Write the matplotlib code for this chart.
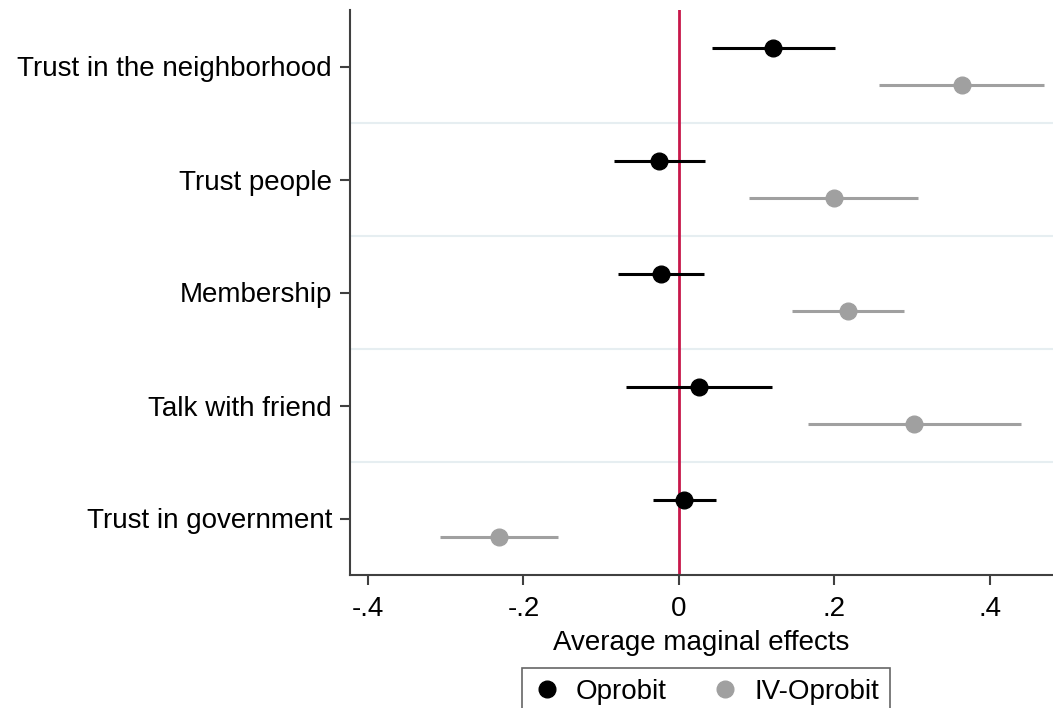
import matplotlib
matplotlib.use("Agg")
import matplotlib.pyplot as plt
from matplotlib.lines import Line2D
import numpy as np

plt.rcParams['font.family'] = ['Liberation Sans', 'DejaVu Sans']

categories = ["Trust in the neighborhood", "Trust people", "Membership",
              "Talk with friend", "Trust in government"]

oprobit_est = [0.121, -0.026, -0.023, 0.026, 0.006]
oprobit_lo = [0.043, -0.084, -0.079, -0.068, -0.034]
oprobit_hi = [0.201, 0.034, 0.032, 0.120, 0.048]

iv_est = [0.364, 0.199, 0.217, 0.302, -0.232]
iv_lo = [0.257, 0.090, 0.146, 0.166, -0.307]
iv_hi = [0.470, 0.308, 0.289, 0.440, -0.156]

xticks = [-0.4, -0.2, 0, 0.2, 0.4]
xticklabels = ["-.4", "-.2", "0", ".2", ".4"]

W, H = 1053, 708
fig = plt.figure(figsize=(W / 100, H / 100), dpi=100)
ax = fig.add_axes([350 / W, (H - 575) / H, (1053 - 350) / W, (575 - 10) / H])

n = len(categories)
ypos = np.arange(n, 0, -1).astype(float)
off = 0.168

black = "#000000"
gray = "#A0A0A0"

# separators between categories
for k in range(1, n):
    ax.axhline(k + 0.5, color="#E6EEF1", lw=1.5, zorder=0)

ax.axvline(0, color="#C8174A", lw=2, zorder=1)

o_est = np.array(oprobit_est)
ax.errorbar(o_est, ypos + off,
            xerr=[o_est - np.array(oprobit_lo), np.array(oprobit_hi) - o_est],
            fmt="o", color=black, ecolor=black, elinewidth=2.2, capsize=0,
            markersize=12, zorder=3, label="Oprobit")
i_est = np.array(iv_est)
ax.errorbar(i_est, ypos - off,
            xerr=[i_est - np.array(iv_lo), np.array(iv_hi) - i_est],
            fmt="o", color=gray, ecolor=gray, elinewidth=2.2, capsize=0,
            markersize=12, zorder=3, label="IV-Oprobit")

ax.set_xlim(-0.423, 0.481)
ax.set_ylim(0.5, n + 0.5)
ax.set_yticks(ypos)
ax.set_yticklabels(categories, fontsize=20)
ax.set_xticks(xticks)
ax.set_xticklabels(xticklabels, fontsize=20)
ax.set_xlabel("Average maginal effects", fontsize=20, labelpad=6)

for s in ["top", "right"]:
    ax.spines[s].set_visible(False)
for s in ["left", "bottom"]:
    ax.spines[s].set_color("#404040")
    ax.spines[s].set_linewidth(1.5)
ax.tick_params(axis="both", direction="out", length=7, width=1.5, color="#404040")
ax.tick_params(axis="y", pad=6)
ax.tick_params(axis="x", pad=8)

h1 = Line2D([], [], marker="o", ls="none", color=black, markersize=12)
h2 = Line2D([], [], marker="o", ls="none", color=gray, markersize=12)
leg = fig.legend([h1, h2], ["Oprobit", "IV-Oprobit"], loc="upper center",
                 bbox_to_anchor=(706 / W, 1 - 668 / H), ncol=2, fontsize=20,
                 frameon=True, fancybox=False, edgecolor="#404040",
                 handletextpad=0.55, columnspacing=1.6, borderpad=0.4,
                 handlelength=1.0, borderaxespad=0)
leg.get_frame().set_linewidth(1.2)

fig.savefig("out.png", dpi=100)
